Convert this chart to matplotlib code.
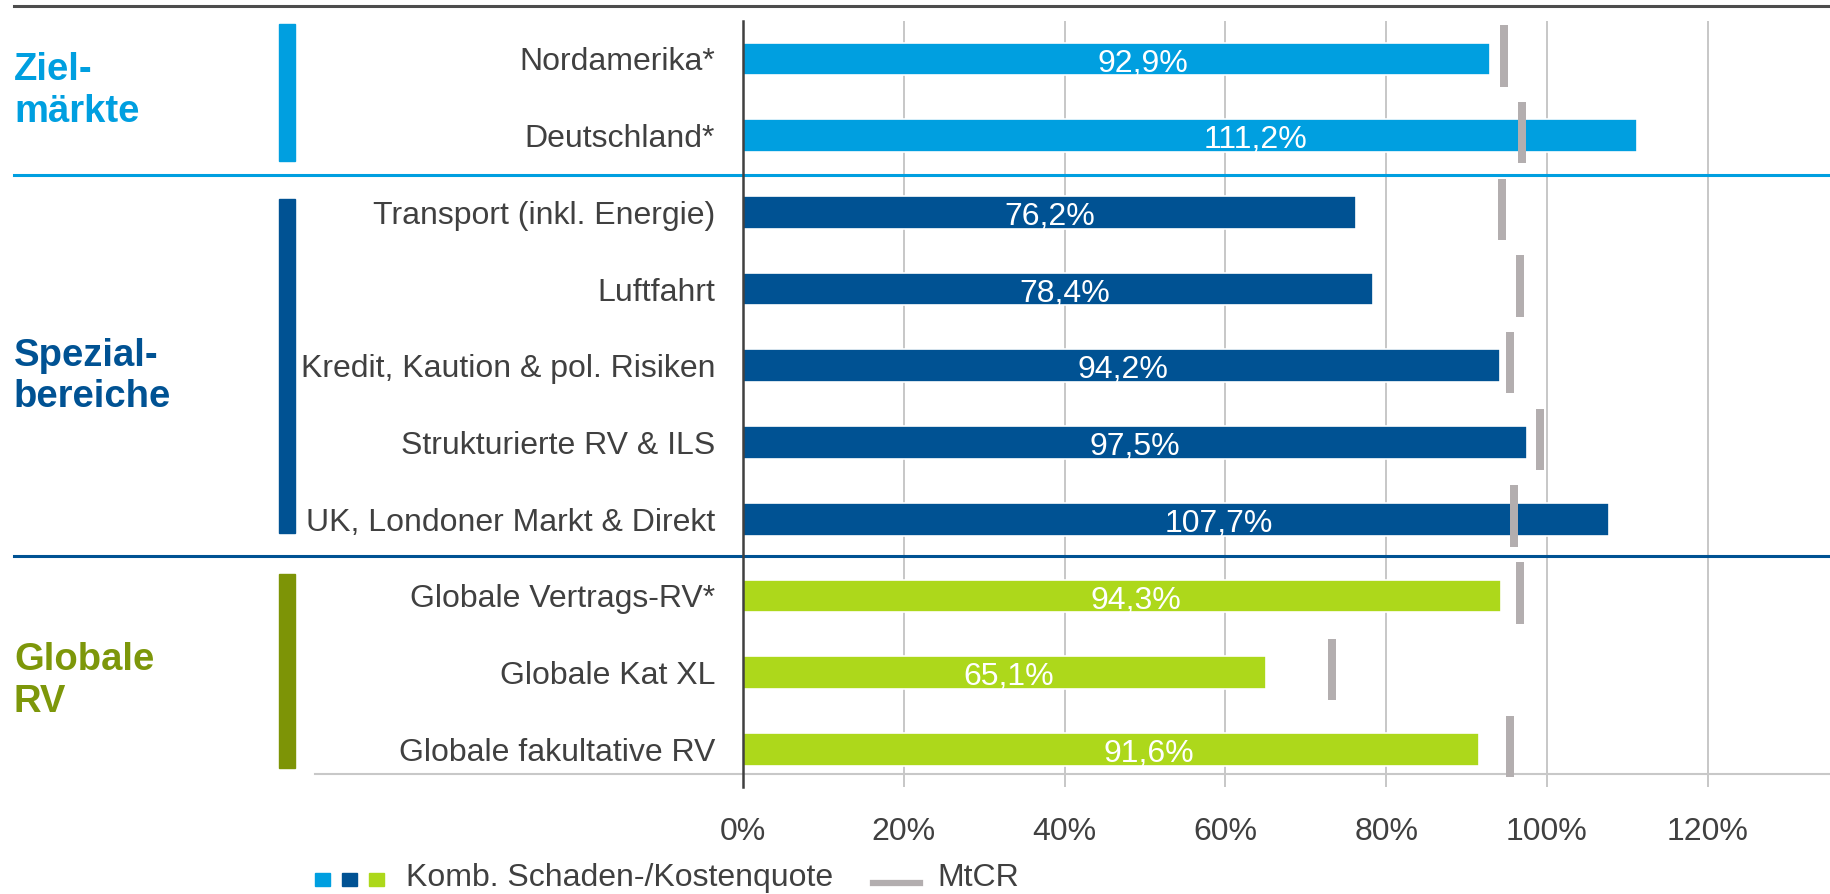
import matplotlib.pyplot as plt
import matplotlib.transforms as mtransforms
from matplotlib.patches import Rectangle
from matplotlib.lines import Line2D
import numpy as np

plt.rcParams['font.family'] = ['Liberation Sans', 'DejaVu Sans']

# data
categories = ["Nordamerika*", "Deutschland*",
              "Transport (inkl. Energie)", "Luftfahrt",
              "Kredit, Kaution & pol. Risiken", "Strukturierte RV & ILS",
              "UK, Londoner Markt & Direkt",
              "Globale Vertrags-RV*", "Globale Kat XL", "Globale fakultative RV"]
combined_ratio = [92.9, 111.2, 76.2, 78.4, 94.2, 97.5, 107.7, 94.3, 65.1, 91.6]
mtcr = [94.7, 96.9, 94.4, 96.6, 95.4, 99.1, 95.9, 96.6, 73.3, 95.4]
value_labels = ["92,9%", "111,2%", "76,2%", "78,4%", "94,2%", "97,5%",
                "107,7%", "94,3%", "65,1%", "91,6%"]
groups = [("Ziel-", "märkte"), ("Spezial-", "bereiche"), ("Globale", "RV")]
group_rows = [(0, 1), (2, 6), (7, 9)]
tick_values = [0, 20, 40, 60, 80, 100, 120]
tick_labels = ["0%", "20%", "40%", "60%", "80%", "100%", "120%"]

# layout / styles
label_x = [49.7, 63.8, 38.1, 40.0, 47.3, 48.7, 59.2, 48.9, 33.1, 50.5]
group_colors = ["#009FE0", "#005293", "#ADD81B"]
group_text_colors = ["#009FE0", "#005293", "#7D970A"]
group_bar_colors = ["#009FE0", "#005293", "#7D9406"]
group_bar_pad = [(0.456, 0.326), (0.175, 0.176), (0.286, 0.24)]
group_label_mid = [0.42, 4.14, 8.11]
mtcr_color = "#B3AEAF"
text_color = "#404040"
W, H = 1830, 894

fig = plt.figure(figsize=(W / 100, H / 100), dpi=100)
ax = fig.add_axes([743 / W, 1 - 786.7 / H, (W - 743) / W, (786.7 - 21) / H])

rows = np.arange(len(categories))
bar_colors = []
for gi, (a, b) in enumerate(group_rows):
    bar_colors += [group_colors[gi]] * (b - a + 1)

ax.barh(rows, combined_ratio, height=0.426, color=bar_colors,
        edgecolor="white", linewidth=1.2, zorder=3)
ax.barh(rows - 0.04, 1.0, left=np.array(mtcr) - 0.5, height=0.8,
        color=mtcr_color, zorder=4)

for r, lx, txt in zip(rows, label_x, value_labels):
    ax.text(lx, r + 0.06, txt, color="white", fontsize=23,
            ha="center", va="center", zorder=5)

ax.set_xlim(0, 135.2)
ax.set_ylim(9.487, -0.495)
ax.set_yticks(rows)
ax.set_yticklabels(categories, fontsize=23, color=text_color)
ax.tick_params(axis="y", length=0, pad=20)
ax.set_xticks(tick_values)
ax.set_xticklabels(tick_labels, fontsize=23, color=text_color)
ax.tick_params(axis="x", length=0, pad=22)
ax.xaxis.grid(True, color="#BDBDBD", linewidth=1.2, zorder=0)
ax.set_axisbelow(True)
for s in ["top", "right", "bottom"]:
    ax.spines[s].set_visible(False)
ax.spines["left"].set_color(text_color)
ax.spines["left"].set_linewidth(1.8)
ax.spines["left"].set_zorder(6)

# x in figure, y in data
blend = mtransforms.blended_transform_factory(fig.transFigure, ax.transData)

# separators between groups
ax.add_line(Line2D([14 / W, 1], [1.508, 1.508], transform=blend,
                   color=group_colors[0], lw=2.2, clip_on=False, zorder=2))
ax.add_line(Line2D([14 / W, 1], [6.48, 6.48], transform=blend,
                   color=group_colors[1], lw=2.2, clip_on=False, zorder=2))
ax.add_line(Line2D([315 / W, 1], [9.32, 9.32], transform=blend,
                   color="#C8C8C8", lw=1.5, clip_on=False, zorder=2))

# top rule
fig.add_artist(Line2D([14 / W, 1], [1 - 5.7 / H, 1 - 5.7 / H],
                      color="#4D4D4D", lw=2.2))

# group bars and labels
for gi, (a, b) in enumerate(group_rows):
    top = a - group_bar_pad[gi][0]
    bot = b + group_bar_pad[gi][1]
    ax.add_patch(Rectangle((279 / W, top), 16 / W, bot - top, transform=blend,
                           color=group_bar_colors[gi], clip_on=False))
    mid = group_label_mid[gi]
    l1, l2 = groups[gi]
    ax.text(14 / W, mid - 0.27, l1, transform=blend, fontsize=27.5,
            fontweight="bold", color=group_text_colors[gi],
            ha="left", va="center")
    ax.text(14 / W, mid + 0.27, l2, transform=blend, fontsize=27.5,
            fontweight="bold", color=group_text_colors[gi],
            ha="left", va="center")

# legend
for i, c in enumerate(group_colors):
    fig.add_artist(Rectangle(((315 + 27 * i) / W, 1 - 886 / H), 15 / W, 13 / H,
                             color=c, transform=fig.transFigure))
fig.text(406 / W, 1 - 878 / H, "Komb. Schaden-/Kostenquote", fontsize=23,
         color=text_color, ha="left", va="center")
fig.add_artist(Line2D([873 / W, 920 / W], [1 - 883 / H, 1 - 883 / H],
                      color=mtcr_color, lw=4.5))
fig.text(937 / W, 1 - 878 / H, "MtCR", fontsize=23, color=text_color,
         ha="left", va="center")

fig.savefig("out.png", dpi=100)
